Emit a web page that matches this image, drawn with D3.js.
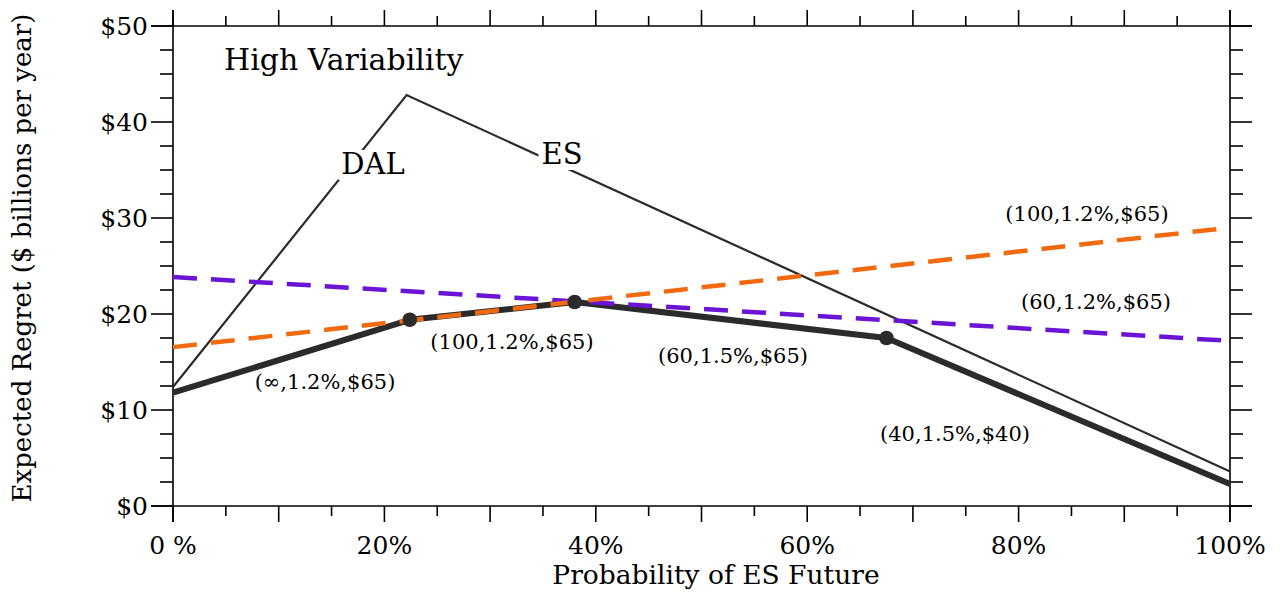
<!DOCTYPE html>
<html>
<head>
<meta charset="utf-8">
<script src="https://cdn.jsdelivr.net/npm/d3@7"></script>
<style>
  html, body { margin: 0; padding: 0; background: #fff; }
  svg { display: block; }
  text { font-family: "DejaVu Serif", "Liberation Serif", serif; fill: #000; }
</style>
</head>
<body>
<svg id="chart" width="1287" height="593"></svg>
<script>
// Probability of ES future (%) and expected regret ($ billions per year)
const dalEsX = [0, 22.1, 100];
const dalEsY = [12.4, 42.8, 3.6];

const frontierX = [0, 22.4, 38.0, 67.5, 100];
const frontierY = [11.8, 19.4, 21.25, 17.5, 2.3];
const frontierDotsX = [22.4, 38.0, 67.5];
const frontierDotsY = [19.4, 21.25, 17.5];

const orangeX = [0, 100];
const orangeY = [16.55, 29.0];
const purpleX = [0, 100];
const purpleY = [23.85, 17.2];

const xTickValues = [0, 20, 40, 60, 80, 100];
const xTickLabels = ["0 %", "20%", "40%", "60%", "80%", "100%"];
const yTickValues = [0, 10, 20, 30, 40, 50];
const yTickLabels = ["$0", "$10", "$20", "$30", "$40", "$50"];

const svg = d3.select("#chart");
const pLeft = 173, pRight = 1230, pTop = 26, pBottom = 506;

const x = d3.scaleLinear().domain([0, 100]).range([pLeft, pRight]);
const y = d3.scaleLinear().domain([0, 50]).range([pBottom, pTop]);

const majorLen = 22, minorLen = 13;
const xMajorLen = 16, xMinorLen = 10;

// Frame: each side extends by the major tick length
const frame = svg.append("g").attr("stroke", "#000").attr("stroke-width", 1.6);
frame.append("line").attr("x1", pLeft - majorLen).attr("x2", pRight + majorLen).attr("y1", pTop).attr("y2", pTop);
frame.append("line").attr("x1", pLeft - majorLen).attr("x2", pRight + majorLen).attr("y1", pBottom).attr("y2", pBottom);
frame.append("line").attr("x1", pLeft).attr("x2", pLeft).attr("y1", pTop - xMajorLen).attr("y2", pBottom + xMajorLen);
frame.append("line").attr("x1", pRight).attr("x2", pRight).attr("y1", pTop - xMajorLen).attr("y2", pBottom + xMajorLen);

// X ticks (bottom: downward, top: upward)
const xMinor = d3.range(0, 100.01, 5);
xMinor.forEach(v => {
  const major = v % 10 === 0;
  const len = major ? xMajorLen : xMinorLen;
  frame.append("line").attr("x1", x(v)).attr("x2", x(v)).attr("y1", pBottom).attr("y2", pBottom + len);
  frame.append("line").attr("x1", x(v)).attr("x2", x(v)).attr("y1", pTop).attr("y2", pTop - len);
});
// Y ticks (left: leftward, right: rightward)
const yMinor = d3.range(0, 50.01, 2.5);
yMinor.forEach(v => {
  const major = v % 10 === 0;
  const len = major ? majorLen : minorLen;
  frame.append("line").attr("x1", pLeft).attr("x2", pLeft - len).attr("y1", y(v)).attr("y2", y(v));
  frame.append("line").attr("x1", pRight).attr("x2", pRight + len).attr("y1", y(v)).attr("y2", y(v));
});

// Tick labels
svg.append("g").selectAll("text").data(xTickValues).join("text")
  .attr("x", d => x(d)).attr("y", pBottom + 48)
  .attr("text-anchor", "middle").attr("font-size", 25)
  .text((d, i) => xTickLabels[i]);
svg.append("g").selectAll("text").data(yTickValues).join("text")
  .attr("x", pLeft - 25).attr("y", d => y(d) + 9)
  .attr("text-anchor", "end").attr("font-size", 25)
  .text((d, i) => yTickLabels[i]);

// Axis titles
svg.append("text").attr("x", 716).attr("y", 584)
  .attr("text-anchor", "middle").attr("font-size", 26.5)
  .text("Probability of ES Future");
svg.append("text").attr("transform", `translate(31,${(13 + 503) / 2}) rotate(-90)`)
  .attr("text-anchor", "middle").attr("font-size", 26)
  .text("Expected Regret ($ billions per year)");

const line = d3.line().x(d => x(d[0])).y(d => y(d[1]));
const plot = svg.append("g");

// DAL / ES curve
plot.append("path").datum(d3.zip(dalEsX, dalEsY)).attr("d", line)
  .attr("fill", "none").attr("stroke", "#2b2b2b").attr("stroke-width", 2.2)
  .attr("stroke-linejoin", "miter");

// Minimum-regret frontier
plot.append("path").datum(d3.zip(frontierX, frontierY)).attr("d", line)
  .attr("fill", "none").attr("stroke", "#2b2b2b").attr("stroke-width", 6)
  .attr("stroke-linejoin", "round");

// Dashed alternatives
plot.append("path").datum(d3.zip(purpleX, purpleY)).attr("d", line)
  .attr("fill", "none").attr("stroke", "#6a14d6").attr("stroke-width", 4.5)
  .attr("stroke-dasharray", "24,14");
plot.append("path").datum(d3.zip(orangeX, orangeY)).attr("d", line)
  .attr("fill", "none").attr("stroke", "#f26a10").attr("stroke-width", 4.5)
  .attr("stroke-dasharray", "24,14");

// Switching points
plot.selectAll("circle").data(d3.zip(frontierDotsX, frontierDotsY)).join("circle")
  .attr("cx", d => x(d[0])).attr("cy", d => y(d[1])).attr("r", 7.3)
  .attr("fill", "#2b2b2b");

// Curve labels with a white backing that breaks the line
function boxedLabel(tx, ty, str, size) {
  const g = svg.append("g");
  const t = g.append("text").attr("x", tx).attr("y", ty)
    .attr("text-anchor", "middle").attr("font-size", size).text(str);
  const b = t.node().getBBox();
  g.insert("rect", "text").attr("x", b.x - 3).attr("y", b.y + 3)
    .attr("width", b.width + 6).attr("height", b.height - 4).attr("fill", "#fff");
}
boxedLabel(373, 174, "DAL", 29);
boxedLabel(562, 164, "ES", 29);

svg.append("text").attr("x", 224).attr("y", 70).attr("font-size", 30).text("High Variability");

const labels = [
  [1087, 221, "(100,1.2%,$65)"],
  [1096, 309, "(60,1.2%,$65)"],
  [512, 349, "(100,1.2%,$65)"],
  [325, 389, "(∞,1.2%,$65)"],
  [733, 363, "(60,1.5%,$65)"],
  [955, 441, "(40,1.5%,$40)"]
];
svg.append("g").selectAll("text").data(labels).join("text")
  .attr("x", d => d[0]).attr("y", d => d[1])
  .attr("text-anchor", "middle").attr("font-size", 21)
  .text(d => d[2]);
</script>
</body>
</html>
